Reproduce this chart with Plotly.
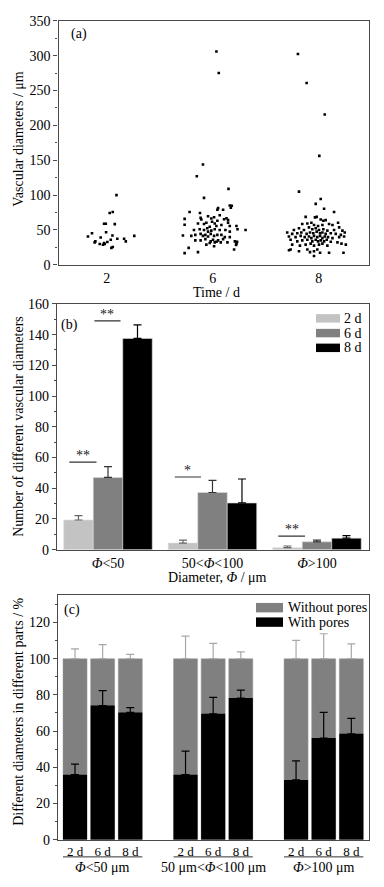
import plotly.graph_objects as go

FONT = "Liberation Serif"
W, H = 384, 887

# ---------------- Panel (a): vascular diameters (jitter offset, diameter in um)
time_labels = ["2", "6", "8"]

jit_2d = [0.092, 0.028, 0.057, -0.025, -0.009, 0.076, -0.139, -0.006, -0.177, -0.057,
          0.054, -0.107, -0.066, -0.035, -0.019, 0.006, 0.038, 0.100, 0.164, 0.180,
          0.260, 0.044, 0.057, -0.114, -0.025]
dia_2d = [100, 74.4, 75.8, 59, 59, 58.4, 45.4, 46.8, 40.7, 39.3,
          42.1, 33.7, 29.9, 28.9, 29.9, 32.7, 36.0, 37.4, 37.4, 33.7,
          41.6, 24.3, 25.7, 32.3, 31.3]

jit_6d = [0.035, 0.057, -0.092, -0.150, 0.149, -0.082,
          0.161, 0.180, 0.171, 0.051, 0.044, 0.098, -0.218, -0.120,
          -0.265, -0.114, -0.107, -0.013, 0.013, 0.066, 0.107, 0.130, 0.145, -0.044,
          -0.265, -0.139, -0.082, -0.060, -0.006, 0.019, 0.044, 0.082, 0.145, 0.161, 0.224, 0.035, -0.028,
          -0.177, -0.123, -0.082, -0.051, -0.013, 0.019, 0.066, 0.120, 0.161, 0.234, 0.310, -0.044,
          -0.281, -0.202, -0.164, -0.114, -0.092, -0.069, -0.044, -0.019, 0.013, 0.044, 0.082, 0.114, 0.161, 0.098,
          -0.164, -0.114, -0.069, -0.019, 0.003, 0.035, 0.051, 0.076, 0.139, 0.209, 0.224, -0.060, -0.028, 0.019,
          -0.227, -0.139, -0.265, 0.202, 0.013, 0.230, 0.220]
dia_6d = [306, 275, 144, 127, 109, 96,
          85.2, 84.7, 81.9, 81.4, 79.1, 79.1, 75.8, 74.4,
          66.0, 67.4, 65.0, 66.4, 68.3, 71.1, 65.5, 66.9, 64.1, 69.7,
          57.5, 59.4, 58.5, 60.4, 61.8, 59.4, 63.2, 57.1, 60.4, 55.7, 55.7, 55.7, 54.7,
          50.0, 51.0, 50.0, 52.4, 49.1, 51.0, 50.0, 50.0, 47.7, 51.0, 50.0, 47.7,
          42.1, 41.6, 43.0, 44.4, 41.6, 43.0, 40.7, 44.4, 41.6, 43.0, 43.0, 39.7, 39.7, 36.9,
          35.1, 35.1, 36.9, 33.7, 36.0, 33.2, 35.1, 32.3, 32.3, 33.7, 30.4, 29.0, 31.3, 32.3,
          24.3, 18.2, 16.8, 22.0, 26.6, 33.0, 28.6]

jit_8d = [-0.196, -0.114, 0.057, 0.006, -0.186, 0.019, -0.028,
          0.051, 0.145, -0.123, -0.035, -0.019, 0.019, 0.044, 0.066, 0.098, 0.130, 0.183,
          -0.155, -0.107, -0.069, -0.044, -0.006, 0.035, 0.193,
          -0.234, -0.186, -0.139, -0.092, -0.060, -0.028, 0.003, 0.044, 0.082, 0.145, 0.224, 0.246,
          -0.297, -0.250, -0.202, -0.164, -0.114, -0.082, -0.051, -0.019, 0.013, 0.035, 0.066, 0.114, 0.161, 0.209,
          -0.281, -0.218, -0.170, -0.132, -0.092, -0.069, -0.044, -0.013, 0.013, 0.035, 0.057, 0.088, 0.130, 0.193, 0.240,
          -0.265, -0.202, -0.155, -0.107, -0.060, -0.028, -0.006, 0.019, 0.051, 0.076, 0.114, 0.177, 0.215, 0.256,
          -0.250, -0.177, -0.123, -0.076, -0.044, 0.003, 0.035, 0.082,
          -0.265, -0.186, -0.107, -0.082, -0.044, -0.013, 0.013, 0.098, 0.234, -0.044, -0.280]
dia_8d = [302.4, 260.7, 215.7, 156.3, 105.0, 94.5, 87.5,
          80.5, 75.8, 68.8, 68.1, 68.8, 65.0, 63.2, 64.1, 58.5, 57.1, 60.4,
          58.5, 59.4, 60.4, 57.1, 55.7, 57.1, 53.8,
          50.0, 52.4, 50.0, 53.8, 51.0, 52.4, 50.0, 51.0, 49.1, 50.0, 49.1, 46.3,
          46.3, 44.4, 45.4, 46.3, 44.4, 46.3, 45.4, 47.7, 45.4, 46.3, 44.4, 45.4, 44.4, 43.0,
          40.7, 39.7, 41.6, 39.7, 40.7, 38.3, 41.6, 39.7, 41.6, 38.3, 40.7, 39.7, 38.3, 39.7, 40.7,
          36.0, 33.7, 35.1, 36.0, 33.7, 36.0, 33.7, 35.1, 33.7, 36.0, 33.2, 32.3, 30.4, 29.0,
          29.0, 27.6, 29.0, 30.4, 27.6, 29.0, 30.4, 27.6,
          22.0, 19.6, 22.0, 18.2, 19.6, 22.0, 17.3, 17.3, 17.3, 12.6, 21.0]

# ---------------- Panel (b): number of vascular diameters per size class
size_classes = ["<i>Φ</i>&lt;50", "50&lt;<i>Φ</i>&lt;100", "<i>Φ</i>&gt;100"]
count_labels = ["2 d", "6 d", "8 d"]
count_2d = [19.3, 4.3, 1.3]
count_2d_err = [2.9, 1.9, 1.1]
count_6d = [47.0, 37.2, 5.1]
count_6d_err = [7.1, 7.9, 1.1]
count_8d = [137.5, 30.4, 7.5]
count_8d_err = [8.8, 15.6, 1.7]
# significance brackets: group index, start/end offset, level, label
sig_group = [0, 0, 1, 2]
sig_x0 = [-0.37, -0.13, -0.36, -0.37]
sig_x1 = [-0.11, 0.12, -0.11, -0.115]
sig_y = [57.0, 149.0, 47.3, 8.8]
sig_text = ["**", "**", "*", "**"]

# ---------------- Panel (c): percentage with / without pores
group_labels = ["<i>Φ</i>&lt;50 μm", "50 μm&lt;<i>Φ</i>&lt;100 μm", "<i>Φ</i>&gt;100 μm"]
day_labels = ["2 d", "6 d", "8 d"]
with_pores = [35.9, 74.1, 70.3, 35.9, 69.6, 78.3, 33.0, 56.2, 58.5]
with_err = [5.8, 8.3, 2.7, 13.0, 9.0, 4.3, 10.5, 14.1, 8.5]
total_pct = [100, 100, 100, 100, 100, 100, 100, 100, 100]
without_err = [5.4, 7.8, 2.4, 12.5, 8.5, 3.8, 10.1, 13.8, 8.2]


def px(x):
    return x / W


def py(y):
    return 1 - y / H


fig = go.Figure()

# ---- (a) traces
for i, (jit, dia) in enumerate([(jit_2d, dia_2d), (jit_6d, dia_6d), (jit_8d, dia_8d)]):
    fig.add_trace(go.Scatter(
        x=[i + 1 + j for j in jit], y=dia, mode="markers",
        marker=dict(color="black", size=2.6, symbol="square", line=dict(width=0)),
        xaxis="x", yaxis="y", showlegend=False, hoverinfo="skip"))

# ---- (b) traces
b_colors = ["#c3c3c3", "#808080", "#000000"]
b_err_colors = ["#666666", "#333333", "#000000"]
for k, (vals, errs) in enumerate([(count_2d, count_2d_err), (count_6d, count_6d_err),
                                   (count_8d, count_8d_err)]):
    fig.add_trace(go.Bar(
        x=[0, 1, 2], y=vals, name=count_labels[k], offsetgroup=f"b{k}",
        marker=dict(color=b_colors[k], line=dict(color="#dddddd", width=0.6)),
        error_y=dict(type="data", symmetric=False, array=errs,
                     arrayminus=[0] * len(errs), color=b_err_colors[k],
                     thickness=1.2, width=4),
        xaxis="x2", yaxis="y2", showlegend=False))

# ---- (c) traces
c_pos = [g * 4 + d + 1 for g in range(3) for d in range(3)]
fig.add_trace(go.Bar(
    x=c_pos, y=total_pct, name="Without pores", offsetgroup="c", width=0.87,
    marker=dict(color="#808080", line=dict(color="#9a9a9a", width=0.5)),
    error_y=dict(type="data", symmetric=False, array=without_err,
                 arrayminus=[0] * 9, color="#a8a8a8", thickness=1.2, width=4),
    xaxis="x3", yaxis="y3", showlegend=False))
fig.add_trace(go.Bar(
    x=c_pos, y=with_pores, name="With pores", offsetgroup="c", width=0.87,
    marker=dict(color="#000000", line=dict(width=0)),
    error_y=dict(type="data", symmetric=False, array=with_err,
                 arrayminus=[0] * 9, color="#000000", thickness=1.2, width=4),
    xaxis="x3", yaxis="y3", showlegend=False))

TICK = 14
axis_common = dict(showline=True, mirror=True, linecolor="#4a4a4a", linewidth=1.3,
                   showgrid=False, zeroline=False,
                   tickfont=dict(family=FONT, size=TICK, color="black"))
yax_common = dict(axis_common, ticks="outside", ticklen=4, tickwidth=1, tickcolor="#4a4a4a",
                  minor=dict(ticks="outside", ticklen=2, tickwidth=1, tickcolor="#4a4a4a"))

shapes = []
annotations = []

fig.update_layout(
    xaxis=dict(axis_common, domain=[px(58.5), px(368.5)], range=[0.545, 3.47],
               tickvals=[1, 2, 3], ticktext=time_labels, ticks="", anchor="y"),
    yaxis=dict(yax_common, domain=[py(262.3), py(14)], range=[0, 350], dtick=50,
               minor=dict(yax_common["minor"], dtick=25), anchor="x"),
    xaxis2=dict(axis_common, domain=[px(57), px(369)], range=[-0.488, 2.498],
                tickvals=[0, 1, 2], ticktext=size_classes, ticks="", anchor="y2"),
    yaxis2=dict(yax_common, domain=[py(552), py(302)], range=[0, 160], dtick=20,
                minor=dict(yax_common["minor"], dtick=10), anchor="x2"),
    xaxis3=dict(axis_common, domain=[px(58), px(369)], range=[0.384, 11.64],
                tickvals=c_pos, ticktext=day_labels * 3, ticks="", anchor="y3",
                tickfont=dict(family=FONT, size=13, color="black")),
    yaxis3=dict(yax_common, domain=[py(847), py(598.5)], range=[0, 135],
                tickvals=[0, 20, 40, 60, 80, 100, 120],
                minor=dict(yax_common["minor"], tickvals=[10, 30, 50, 70, 90, 110, 130]),
                anchor="x3"),
)

title_font = dict(family=FONT, size=14, color="black")


def ann(text, x, y, xref="paper", yref="paper", xanchor="center", yanchor="middle", **kw):
    d = dict(text=text, x=x, y=y, xref=xref, yref=yref, xanchor=xanchor, yanchor=yanchor,
             showarrow=False)
    d.update(kw)
    return d


# axis titles
annotations += [
    ann("Vascular diameters / μm", px(19), py(134), textangle=-90, font=title_font),
    ann("Time / d", px(216), py(290), font=title_font),
    ann("Number of different vascular diameters", px(19), py(427), textangle=-90,
        font=title_font),
    ann("Diameter, <i>Φ</i> / μm", px(217), py(580), font=title_font),
    ann("Different diameters in different parts / %", px(19), py(717), textangle=-90,
        font=title_font),
]

# panel labels
for lab, xx, yy in [("(a)", 78.5, 27), ("(b)", 69.5, 323), ("(c)", 71.5, 613)]:
    annotations.append(ann(lab, px(xx), py(yy), font=dict(family=FONT, size=14, color="black")))

# significance brackets in (b)
for g, x0, x1, yv, t in zip(sig_group, sig_x0, sig_x1, sig_y, sig_text):
    shapes.append(dict(type="line", xref="x2", yref="y2", x0=g + x0, x1=g + x1, y0=yv, y1=yv,
                       line=dict(color="#333333", width=1.2)))
    annotations.append(ann(t, g + (x0 + x1) / 2, yv, xref="x2", yref="y2",
                           yanchor="bottom", yshift=-3,
                           font=dict(family=FONT, size=14, color="#222222")))

# legend (b)
leg_b_y = [316.7, 331.7, 346.7]
for k in range(3):
    shapes.append(dict(type="rect", xref="paper", yref="paper",
                       x0=px(316), x1=px(340), y0=py(leg_b_y[k] + 4.3), y1=py(leg_b_y[k] - 4.3),
                       fillcolor=b_colors[k], line=dict(width=0)))
    annotations.append(ann(count_labels[k], px(341.5), py(leg_b_y[k]), xanchor="left",
                           font=dict(family=FONT, size=14, color="black")))

# legend (c)
leg_c = [("Without pores", "#808080", 611.0), ("With pores", "#000000", 625.7)]
for name, col, yy in leg_c:
    shapes.append(dict(type="rect", xref="paper", yref="paper",
                       x0=px(256), x1=px(283), y0=py(yy + 4.8), y1=py(yy - 4.8),
                       fillcolor=col, line=dict(width=0)))
    annotations.append(ann(name, px(285.5), py(yy), xanchor="left",
                           font=dict(family=FONT, size=14, color="black")))

# group lines and labels under (c)
for g in range(3):
    shapes.append(dict(type="line", xref="x3", yref="paper", x0=g * 4 + 1 - 0.435,
                       x1=g * 4 + 3 + 0.435, y0=py(864.5), y1=py(864.5),
                       line=dict(color="#333333", width=1)))
    annotations.append(ann(group_labels[g], g * 4 + 2, py(875), xref="x3",
                           font=dict(family=FONT, size=14, color="black")))

fig.update_layout(
    width=W, height=H, margin=dict(l=0, r=0, t=0, b=0),
    paper_bgcolor="white", plot_bgcolor="white",
    barmode="group", bargap=0.153, bargroupgap=0,
    showlegend=False, shapes=shapes, annotations=annotations,
    font=dict(family=FONT, color="black"),
)

fig.write_html("out.html", config={"displayModeBar": False},
               post_script="document.body.style.margin='0';document.body.style.overflow='hidden';")
